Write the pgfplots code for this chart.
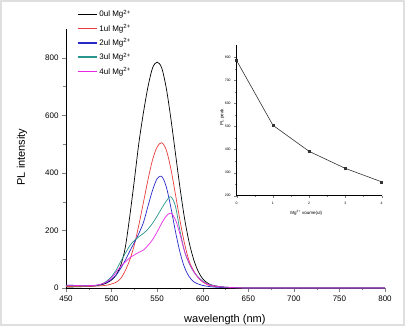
\documentclass[border=0pt]{standalone}
\usepackage{pgfplots}
\pgfplotsset{compat=1.18}
\usepackage{fontspec}
\setmainfont{Liberation Sans}
\definecolor{cred}{RGB}{235,60,60}
\definecolor{cblue}{RGB}{40,40,200}
\definecolor{cteal}{RGB}{40,150,140}
\definecolor{cmag}{RGB}{230,40,230}
\begin{document}
\begin{tikzpicture}[x=1pt,y=1pt]
\path[use as bounding box] (0,0) rectangle (405,326);
\draw[gray!25, line width=1.2pt] (1,1) rectangle (404,325);
\begin{axis}[
  at={(66pt,38pt)}, anchor=south west,
  scale only axis, width=319pt, height=259pt,
  xmin=450, xmax=800, ymin=0, ymax=900,
  axis lines=left, axis line style={-, line width=0.8pt},
  tick align=outside, major tick length=4pt, minor tick length=2.5pt,
  xtick={450,500,...,800}, minor x tick num=1,
  ytick={0,200,400,600,800}, minor y tick num=1,
  /pgf/number format/assume math mode=true,
  tick label style={font=\fontsize{8}{9}\selectfont},
  xlabel={wavelength (nm)}, ylabel={PL intensity},
  label style={font=\fontsize{11}{12}\selectfont},
  xlabel style={at={(axis description cs:0.498,-0.124)}, anchor=center},
  ylabel style={at={(axis description cs:-0.138,0.506)}, anchor=center},
  clip=false,
  legend style={at={(axis description cs:0.034,1.082)}, anchor=north west,
    draw=none, fill=none, font=\fontsize{8}{9}\selectfont,
    inner sep=0pt, row sep=1.8pt},
  legend cell align=left,
  legend image code/.code={\draw[#1] (0pt,0pt) -- (19pt,0pt);},
]
\addlegendimage{draw=black, line width=1.4pt}
\addlegendentry{0ul Mg\textsuperscript{2+}}
\addlegendimage{draw=cred, line width=1.4pt}
\addlegendentry{1ul Mg\textsuperscript{2+}}
\addlegendimage{draw=cblue, line width=1.4pt}
\addlegendentry{2ul Mg\textsuperscript{2+}}
\addlegendimage{draw=cteal, line width=1.4pt}
\addlegendentry{3ul Mg\textsuperscript{2+}}
\addlegendimage{draw=cmag, line width=1.4pt}
\addlegendentry{4ul Mg\textsuperscript{2+}}
\addplot[forget plot, color=black, line width=0.7pt, smooth, tension=0.5] coordinates {(450,3)(460,4)(470,5)(480,7)(485,9)(490,12)(495,18)(500,28)(505,45)(510,78)(515,140)(520,250)(525,375)(530,505)(535,610)(540,700)(545,765)(550,785)(555,765)(560,695)(565,590)(570,470)(575,350)(580,243)(585,160)(590,100)(595,58)(600,32)(605,18)(610,10)(620,4)(630,2)(650,0)(700,0)(800,0)};
\addplot[forget plot, color=cred, line width=0.7pt, smooth, tension=0.5] coordinates {(450,5)(460,5)(470,5)(480,6)(490,8)(495,10)(500,14)(505,20)(510,33)(515,60)(520,98)(525,150)(530,220)(535,298)(540,377)(545,446)(550,490)(555,505)(560,480)(565,415)(570,327)(575,236)(580,155)(585,95)(590,60)(595,36)(600,21)(605,12)(610,7)(620,3)(630,1)(650,0)(700,0)(800,0)};
\addplot[forget plot, color=cblue, line width=0.7pt, smooth, tension=0.5] coordinates {(450,10)(460,9)(470,8)(480,8)(485,10)(490,14)(495,20)(500,30)(505,45)(510,68)(515,96)(520,128)(525,158)(530,190)(535,228)(540,285)(545,340)(550,380)(555,388)(560,352)(565,281)(570,198)(575,125)(580,72)(585,40)(590,22)(595,14)(600,9)(605,6)(610,4)(620,2)(650,0)(700,0)(800,0)};
\addplot[forget plot, color=cteal, line width=0.7pt, smooth, tension=0.5] coordinates {(450,8)(460,7)(470,7)(480,8)(485,10)(490,15)(495,25)(500,40)(505,62)(510,92)(515,120)(520,147)(525,165)(530,178)(535,190)(540,205)(545,225)(550,250)(555,277)(560,302)(565,317)(570,285)(575,200)(580,128)(585,86)(590,57)(595,38)(600,24)(605,15)(610,10)(620,4)(630,2)(650,0)(700,0)(800,0)};
\addplot[forget plot, color=cmag, line width=0.7pt, smooth, tension=0.5] coordinates {(450,10)(460,9)(470,8)(480,9)(485,11)(490,15)(495,22)(500,35)(505,55)(510,75)(515,90)(520,105)(525,115)(530,124)(535,132)(540,148)(545,168)(550,195)(555,225)(560,250)(565,260)(570,238)(575,188)(580,128)(585,88)(590,58)(595,36)(600,22)(605,14)(610,9)(620,4)(630,2)(650,0)(700,0)(800,0)};
\end{axis}
\begin{axis}[
  at={(236.7pt,130.3pt)}, anchor=south west,
  scale only axis, width=145pt, height=150.7pt,
  xmin=0, xmax=4, ymin=200, ymax=853,
  axis lines=left, axis line style={-, line width=0.6pt},
  tick align=outside, major tick length=2.5pt, minor tick length=1.5pt,
  xtick={0,1,2,3,4}, minor x tick num=1,
  ytick={200,300,...,800}, minor y tick num=1,
  /pgf/number format/assume math mode=true,
  tick label style={font=\fontsize{3.5}{4}\selectfont},
  xlabel={Mg\textsuperscript{2+} voume(ul)}, ylabel={PL peak},
  label style={font=\fontsize{4.5}{5}\selectfont},
  xlabel style={at={(axis description cs:0.48,-0.115)}, anchor=center},
  ylabel style={at={(axis description cs:-0.1,0.52)}, anchor=center},
]
\addplot[black!80, line width=0.6pt, mark=square*, mark size=1pt] coordinates {(0,785)(1,505)(2,392)(3,318)(4,260)};
\end{axis}
\end{tikzpicture}
\end{document}
